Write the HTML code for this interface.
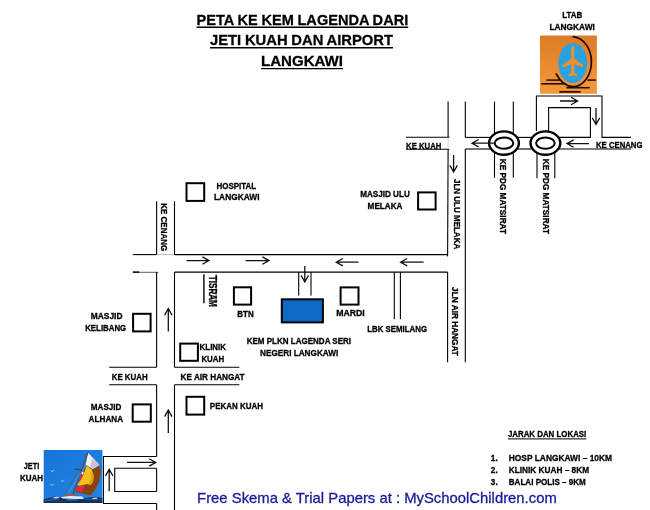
<!DOCTYPE html>
<html lang="ms"><head><meta charset="utf-8"><title>Peta ke Kem Lagenda</title>
<style>html,body{margin:0;padding:0;background:#fff}body{width:650px;height:510px;overflow:hidden}svg{display:block;will-change:transform;font-family:'Liberation Sans', sans-serif}</style>
</head><body>
<svg width="650" height="510" viewBox="0 0 650 510">
<defs><linearGradient id="og" x1="0" y1="0" x2="0" y2="1"><stop offset="0" stop-color="#dc7c27"/><stop offset="1" stop-color="#f59a3b"/></linearGradient></defs>
<rect width="650" height="510" fill="#fff"/>
<text x="196.6" y="24.6" font-size="15.4" font-weight="bold" fill="#000" stroke="#000" stroke-width="0.3" word-spacing="-0.35" textLength="211.6" lengthAdjust="spacingAndGlyphs">PETA KE KEM LAGENDA DARI</text>
<line x1="196.6" y1="27.200000000000003" x2="408.2" y2="27.200000000000003" stroke="#000" stroke-width="1.4"/>
<text x="210" y="45.2" font-size="15.4" font-weight="bold" fill="#000" stroke="#000" stroke-width="0.3" word-spacing="-0.35" textLength="183" lengthAdjust="spacingAndGlyphs">JETI KUAH DAN AIRPORT</text>
<line x1="210" y1="47.800000000000004" x2="393" y2="47.800000000000004" stroke="#000" stroke-width="1.4"/>
<text x="261" y="66" font-size="15.4" font-weight="bold" fill="#000" stroke="#000" stroke-width="0.3" word-spacing="0" textLength="82" lengthAdjust="spacingAndGlyphs">LANGKAWI</text>
<line x1="261" y1="68.6" x2="343" y2="68.6" stroke="#000" stroke-width="1.4"/>
<text x="562.2" y="17.8" font-size="9.3" font-weight="bold" fill="#000" stroke="#000" stroke-width="0.3" word-spacing="0" textLength="20.1" lengthAdjust="spacingAndGlyphs">LTAB</text>
<text x="549.4" y="29.8" font-size="9.3" font-weight="bold" fill="#000" stroke="#000" stroke-width="0.3" word-spacing="0" textLength="45.5" lengthAdjust="spacingAndGlyphs">LANGKAWI</text>
<rect x="540" y="35.5" width="56.9" height="58.3" fill="url(#og)"/>
<ellipse cx="572.8" cy="63.1" rx="14.5" ry="20" fill="#2aa2dd"/>
<path d="M572.6 36.6 C584 37.5 591.4 49 591.4 61.5 C591.4 76 583 86.8 573 86.6 C565 86.4 559.5 80.5 556 73.5" fill="none" stroke="#230a04" stroke-width="1.7"/>
<line x1="546.4" y1="80.1" x2="560.5" y2="80.1" stroke="#230a04" stroke-width="1.5"/>
<line x1="587.5" y1="80.1" x2="595.8" y2="80.1" stroke="#230a04" stroke-width="1.5"/>
<line x1="541.2" y1="83.8" x2="564" y2="83.8" stroke="#230a04" stroke-width="1.6"/>
<line x1="566.4" y1="87.7" x2="589.7" y2="87.7" stroke="#230a04" stroke-width="1.6"/>
<line x1="559.3" y1="91.8" x2="580.6" y2="91.8" stroke="#230a04" stroke-width="1.7"/>
<path d="M572.8 46 c1.2 0 1.6 2 1.6 4.5 v8.2 l8.6 6.2 v2.6 l-8.6 -3.2 v8.4 l2.8 2.2 v1.6 l-4.4 -1 l-4.4 1 v-1.6 l2.8 -2.2 v-8.4 l-8.6 3.2 v-2.6 l8.6 -6.2 v-8.2 c0 -2.5 .4 -4.5 1.6 -4.5z" fill="#ef8f30"/>
<polyline points="536.4,131 536.4,96 602,96 602,137.4 631,137.4" fill="none" stroke="#000" stroke-width="1.1"/>
<polyline points="548.6,131 548.6,107.6 590.4,107.6 590.4,137.4 559,137.4" fill="none" stroke="#000" stroke-width="1.1"/>
<line x1="559" y1="149" x2="631" y2="149" stroke="#000" stroke-width="1.1"/>
<path d="M560 101L577.6 101M571.00 104.70L577.6 101L571.00 97.30" fill="none" stroke="#111" stroke-width="1.3" stroke-linejoin="miter"/>
<path d="M596 108L596 124.5M592.30 117.90L596 124.5L599.70 117.90" fill="none" stroke="#111" stroke-width="1.3" stroke-linejoin="miter"/>
<path d="M589 143.6L567 143.6M573.60 139.90L567 143.6L573.60 147.30" fill="none" stroke="#111" stroke-width="1.3" stroke-linejoin="miter"/>
<text x="596" y="148.4" font-size="9.3" font-weight="bold" fill="#000" stroke="#000" stroke-width="0.3" word-spacing="0" textLength="46.4" lengthAdjust="spacingAndGlyphs">KE CENANG</text>
<ellipse cx="504" cy="143.1" rx="14.9" ry="11.7" fill="#fff" stroke="#000" stroke-width="2.4"/>
<ellipse cx="504" cy="143.1" rx="9.3" ry="5.7" fill="#fff" stroke="#000" stroke-width="2"/>
<ellipse cx="545.4" cy="143.1" rx="14.9" ry="11.7" fill="#fff" stroke="#000" stroke-width="2.4"/>
<ellipse cx="545.4" cy="143.1" rx="9.3" ry="5.7" fill="#fff" stroke="#000" stroke-width="2"/>
<path d="M494 143.2L472 143.2M478.60 139.50L472 143.2L478.60 146.90" fill="none" stroke="#111" stroke-width="1.3" stroke-linejoin="miter"/>
<line x1="518" y1="137.4" x2="531.5" y2="137.4" stroke="#000" stroke-width="1.1"/>
<line x1="518" y1="149" x2="531.5" y2="149" stroke="#000" stroke-width="1.1"/>
<line x1="494.5" y1="101.6" x2="494.5" y2="134" stroke="#000" stroke-width="1.1"/>
<line x1="513.3" y1="101.6" x2="513.3" y2="134" stroke="#000" stroke-width="1.1"/>
<line x1="494.5" y1="153" x2="494.5" y2="177.8" stroke="#000" stroke-width="1.1"/>
<line x1="513.3" y1="153" x2="513.3" y2="177.8" stroke="#000" stroke-width="1.1"/>
<line x1="537" y1="153" x2="537" y2="178.3" stroke="#000" stroke-width="1.1"/>
<line x1="554.8" y1="153" x2="554.8" y2="178.3" stroke="#000" stroke-width="1.1"/>
<text transform="translate(500 158.7) rotate(90)" font-size="9.8" font-weight="bold" fill="#000" stroke="#000" stroke-width="0.3" textLength="75.3" lengthAdjust="spacingAndGlyphs">KE PDG MATSIRAT</text>
<text transform="translate(543 158.7) rotate(90)" font-size="9.8" font-weight="bold" fill="#000" stroke="#000" stroke-width="0.3" textLength="75.3" lengthAdjust="spacingAndGlyphs">KE PDG MATSIRAT</text>
<line x1="406" y1="137.3" x2="449.4" y2="137.3" stroke="#000" stroke-width="1.1"/>
<line x1="406" y1="149.2" x2="449.4" y2="149.2" stroke="#000" stroke-width="1.1"/>
<line x1="465.3" y1="137.4" x2="490" y2="137.4" stroke="#000" stroke-width="1.1"/>
<line x1="465.3" y1="149" x2="490" y2="149" stroke="#000" stroke-width="1.1"/>
<text x="406.1" y="148.6" font-size="9.6" font-weight="bold" fill="#000" stroke="#000" stroke-width="0.3" word-spacing="0" textLength="35.3" lengthAdjust="spacingAndGlyphs">KE KUAH</text>
<line x1="448.1" y1="101.6" x2="448.1" y2="137.4" stroke="#000" stroke-width="1.1"/>
<line x1="448.1" y1="137.4" x2="448.1" y2="149.2" stroke="#d0d0d0" stroke-width="1"/>
<line x1="448.1" y1="149" x2="447.6" y2="256.6" stroke="#000" stroke-width="1.1"/>
<line x1="465.3" y1="101.6" x2="465.3" y2="137.4" stroke="#000" stroke-width="1.1"/>
<line x1="465.3" y1="149" x2="465.3" y2="362.3" stroke="#000" stroke-width="1.1"/>
<path d="M453.6 155L453.6 172M449.90 165.40L453.6 172L457.30 165.40" fill="none" stroke="#111" stroke-width="1.3" stroke-linejoin="miter"/>
<text transform="translate(453.9 179) rotate(90)" font-size="9.8" font-weight="bold" fill="#000" stroke="#000" stroke-width="0.3" textLength="70.2" lengthAdjust="spacingAndGlyphs">JLN ULU MELAKA</text>
<rect x="418.1" y="192.4" width="17.5" height="17.099999999999994" fill="none" stroke="#000" stroke-width="2.0"/>
<text x="360.2" y="196.9" font-size="9.3" font-weight="bold" fill="#000" stroke="#000" stroke-width="0.3" word-spacing="0" textLength="49.6" lengthAdjust="spacingAndGlyphs">MASJID ULU</text>
<text x="367.6" y="209.2" font-size="9.3" font-weight="bold" fill="#000" stroke="#000" stroke-width="0.3" word-spacing="0" textLength="34.9" lengthAdjust="spacingAndGlyphs">MELAKA</text>
<line x1="132.8" y1="254.6" x2="156.6" y2="254.6" stroke="#000" stroke-width="1.1"/>
<line x1="156.6" y1="254.6" x2="174.5" y2="254.6" stroke="#bbb" stroke-width="1"/>
<line x1="174.5" y1="254.6" x2="447.6" y2="254.6" stroke="#000" stroke-width="1.1"/>
<line x1="132.8" y1="272.3" x2="158.4" y2="272.3" stroke="#333" stroke-width="0.8"/>
<line x1="132.8" y1="272.1" x2="139.2" y2="272.1" stroke="#000" stroke-width="1.4"/>
<line x1="174.5" y1="272.1" x2="447.6" y2="272.1" stroke="#000" stroke-width="1.1"/>
<line x1="447.6" y1="272.1" x2="447.6" y2="362.3" stroke="#000" stroke-width="1.1"/>
<path d="M186.5 260.6L209 260.6M202.40 264.30L209 260.6L202.40 256.90" fill="none" stroke="#111" stroke-width="1.3" stroke-linejoin="miter"/>
<path d="M245.6 260.6L269 260.6M262.40 264.30L269 260.6L262.40 256.90" fill="none" stroke="#111" stroke-width="1.3" stroke-linejoin="miter"/>
<path d="M358.5 262.2L336.3 262.2M342.90 258.50L336.3 262.2L342.90 265.90" fill="none" stroke="#111" stroke-width="1.3" stroke-linejoin="miter"/>
<path d="M423.6 262.2L400.6 262.2M407.20 258.50L400.6 262.2L407.20 265.90" fill="none" stroke="#111" stroke-width="1.3" stroke-linejoin="miter"/>
<text transform="translate(452.1 287.1) rotate(90)" font-size="9.8" font-weight="bold" fill="#000" stroke="#000" stroke-width="0.3" textLength="68.8" lengthAdjust="spacingAndGlyphs">JLN AIR HANGAT</text>
<line x1="156.6" y1="201.3" x2="156.6" y2="254.6" stroke="#000" stroke-width="1.1"/>
<line x1="174.5" y1="201.3" x2="174.5" y2="254.6" stroke="#000" stroke-width="1.1"/>
<text transform="translate(160.6 203.2) rotate(90)" font-size="9.8" font-weight="bold" fill="#000" stroke="#000" stroke-width="0.3" textLength="48" lengthAdjust="spacingAndGlyphs">KE CENANG</text>
<rect x="186.5" y="183.2" width="17.69999999999999" height="17.700000000000017" fill="none" stroke="#000" stroke-width="2.0"/>
<text x="216.5" y="188.7" font-size="9.3" font-weight="bold" fill="#000" stroke="#000" stroke-width="0.3" word-spacing="0" textLength="39.7" lengthAdjust="spacingAndGlyphs">HOSPITAL</text>
<text x="214" y="200.4" font-size="9.3" font-weight="bold" fill="#000" stroke="#000" stroke-width="0.3" word-spacing="0" textLength="45.6" lengthAdjust="spacingAndGlyphs">LANGKAWI</text>
<line x1="203.9" y1="274.2" x2="203.9" y2="303.2" stroke="#000" stroke-width="1.4"/>
<line x1="216.1" y1="274.2" x2="216.1" y2="303.2" stroke="#000" stroke-width="0.8"/>
<text transform="translate(208.7 275.8) rotate(90)" font-size="10.4" font-weight="bold" fill="#000" stroke="#000" stroke-width="0.3" textLength="31" lengthAdjust="spacingAndGlyphs">TISRAM</text>
<rect x="233.9" y="287.3" width="17.19999999999999" height="17.30000000000001" fill="none" stroke="#000" stroke-width="2.0"/>
<text x="237.3" y="317.4" font-size="9.3" font-weight="bold" fill="#000" stroke="#000" stroke-width="0.3" word-spacing="0" textLength="16.4" lengthAdjust="spacingAndGlyphs">BTN</text>
<line x1="298.7" y1="272.1" x2="298.7" y2="295.4" stroke="#000" stroke-width="1.1"/>
<line x1="311" y1="272.1" x2="311" y2="295.4" stroke="#000" stroke-width="1.1"/>
<path d="M304.8 265.9L304.8 282M301.10 275.40L304.8 282L308.50 275.40" fill="none" stroke="#111" stroke-width="1.3" stroke-linejoin="miter"/>
<rect x="281.8" y="299.3" width="41.099999999999966" height="23.099999999999966" fill="#0f69c6" stroke="#000" stroke-width="2.0"/>
<text x="246.7" y="344.0" font-size="9.3" font-weight="bold" fill="#000" stroke="#000" stroke-width="0.3" word-spacing="0" textLength="104.4" lengthAdjust="spacingAndGlyphs">KEM PLKN LAGENDA SERI</text>
<text x="260" y="356.2" font-size="9.3" font-weight="bold" fill="#000" stroke="#000" stroke-width="0.3" word-spacing="0" textLength="78.3" lengthAdjust="spacingAndGlyphs">NEGERI LANGKAWI</text>
<rect x="340.6" y="287.4" width="17.899999999999977" height="17.200000000000045" fill="none" stroke="#000" stroke-width="2.0"/>
<text x="336.2" y="316.3" font-size="9.3" font-weight="bold" fill="#000" stroke="#000" stroke-width="0.3" word-spacing="0" textLength="28.6" lengthAdjust="spacingAndGlyphs">MARDI</text>
<line x1="394.3" y1="272.1" x2="394.3" y2="319.2" stroke="#000" stroke-width="1.1"/>
<line x1="400.4" y1="272.1" x2="400.4" y2="319.2" stroke="#000" stroke-width="1.1"/>
<text x="367.2" y="332.2" font-size="9.3" font-weight="bold" fill="#000" stroke="#000" stroke-width="0.3" word-spacing="0" textLength="59.9" lengthAdjust="spacingAndGlyphs">LBK SEMILANG</text>
<line x1="156.6" y1="272.1" x2="156.6" y2="367.3" stroke="#000" stroke-width="1.1"/>
<line x1="174.5" y1="272.1" x2="174.5" y2="367.3" stroke="#000" stroke-width="1.1"/>
<line x1="156.6" y1="384.8" x2="156.6" y2="456.5" stroke="#000" stroke-width="1.1"/>
<line x1="156.6" y1="503.5" x2="156.6" y2="510" stroke="#000" stroke-width="1.1"/>
<line x1="174.5" y1="384.8" x2="174.5" y2="510" stroke="#000" stroke-width="1.1"/>
<line x1="109.2" y1="367.3" x2="156.6" y2="367.3" stroke="#000" stroke-width="1.1"/>
<line x1="174.5" y1="367.3" x2="239.4" y2="367.3" stroke="#000" stroke-width="1.1"/>
<line x1="109.2" y1="384.8" x2="156.6" y2="384.8" stroke="#000" stroke-width="1.1"/>
<line x1="174.5" y1="384.8" x2="239.4" y2="384.8" stroke="#000" stroke-width="1.1"/>
<text x="111.7" y="380.2" font-size="9.3" font-weight="bold" fill="#000" stroke="#000" stroke-width="0.3" word-spacing="0" textLength="36" lengthAdjust="spacingAndGlyphs">KE KUAH</text>
<text x="180.6" y="380.2" font-size="9.3" font-weight="bold" fill="#000" stroke="#000" stroke-width="0.3" word-spacing="0" textLength="64" lengthAdjust="spacingAndGlyphs">KE AIR HANGAT</text>
<path d="M168.3 331.5L168.3 308.5M172.00 315.10L168.3 308.5L164.60 315.10" fill="none" stroke="#111" stroke-width="1.3" stroke-linejoin="miter"/>
<path d="M168.3 433L168.3 410M172.00 416.60L168.3 410L164.60 416.60" fill="none" stroke="#111" stroke-width="1.3" stroke-linejoin="miter"/>
<rect x="133.1" y="313.8" width="17.5" height="17.599999999999966" fill="none" stroke="#000" stroke-width="2.0"/>
<text x="90.8" y="319.2" font-size="9.3" font-weight="bold" fill="#000" stroke="#000" stroke-width="0.3" word-spacing="0" textLength="31.7" lengthAdjust="spacingAndGlyphs">MASJID</text>
<text x="85.2" y="331" font-size="9.3" font-weight="bold" fill="#000" stroke="#000" stroke-width="0.3" word-spacing="0" textLength="41" lengthAdjust="spacingAndGlyphs">KELIBANG</text>
<rect x="180.2" y="343.6" width="17.700000000000017" height="17.19999999999999" fill="none" stroke="#000" stroke-width="2.0"/>
<text x="199.6" y="350.2" font-size="9.3" font-weight="bold" fill="#000" stroke="#000" stroke-width="0.3" word-spacing="0" textLength="26.4" lengthAdjust="spacingAndGlyphs">KLINIK</text>
<text x="201.4" y="361.8" font-size="9.3" font-weight="bold" fill="#000" stroke="#000" stroke-width="0.3" word-spacing="0" textLength="22.8" lengthAdjust="spacingAndGlyphs">KUAH</text>
<rect x="132.7" y="404.4" width="18.100000000000023" height="17.30000000000001" fill="none" stroke="#000" stroke-width="2.0"/>
<text x="90.8" y="409.5" font-size="9.3" font-weight="bold" fill="#000" stroke="#000" stroke-width="0.3" word-spacing="0" textLength="30.6" lengthAdjust="spacingAndGlyphs">MASJID</text>
<text x="88.6" y="421.5" font-size="9.3" font-weight="bold" fill="#000" stroke="#000" stroke-width="0.3" word-spacing="0" textLength="34.5" lengthAdjust="spacingAndGlyphs">ALHANA</text>
<rect x="186.5" y="396.8" width="17.69999999999999" height="17.80000000000001" fill="none" stroke="#000" stroke-width="2.0"/>
<text x="209.8" y="409.3" font-size="9.3" font-weight="bold" fill="#000" stroke="#000" stroke-width="0.3" word-spacing="0" textLength="53.3" lengthAdjust="spacingAndGlyphs">PEKAN KUAH</text>
<polyline points="156.6,456.5 103.4,456.5 103.4,503.5 156.6,503.5" fill="none" stroke="#000" stroke-width="1.1"/>
<polyline points="156.6,468.2 114.7,468.2 114.7,491.5 156.6,491.5" fill="none" stroke="#000" stroke-width="1.1"/>
<line x1="156.6" y1="468.2" x2="156.6" y2="491.5" stroke="#000" stroke-width="1.1"/>
<path d="M127 462.4L155.8 462.4M149.20 466.10L155.8 462.4L149.20 458.70" fill="none" stroke="#111" stroke-width="1.3" stroke-linejoin="miter"/>
<path d="M109.2 491.2L109.2 469.3M112.90 475.90L109.2 469.3L105.50 475.90" fill="none" stroke="#111" stroke-width="1.3" stroke-linejoin="miter"/>
<text x="23.8" y="469" font-size="9.3" font-weight="bold" fill="#000" stroke="#000" stroke-width="0.3" word-spacing="0" textLength="15.4" lengthAdjust="spacingAndGlyphs">JETI</text>
<text x="20" y="480.9" font-size="9.3" font-weight="bold" fill="#000" stroke="#000" stroke-width="0.3" word-spacing="0" textLength="23.1" lengthAdjust="spacingAndGlyphs">KUAH</text>
<g transform="translate(43.7 450)">
<defs><linearGradient id="sky" x1="0" y1="0" x2="1" y2="1"><stop offset="0" stop-color="#1874d6"/><stop offset="1" stop-color="#2186e4"/></linearGradient></defs>
<rect width="58.7" height="53" fill="url(#sky)"/>
<polygon points="0.0,49.3 5.1,48.0 10.8,46.6 15.3,47.5 19.9,46.8 25.6,48.0 32.4,47.0 39.2,48.0 46.0,47.5 51.7,46.8 58.5,48.0 58.5,53.1 0.0,53.1" fill="#0f2f5a"/>
<polygon points="0.0,50.5 6.2,49.1 11.9,48.0 16.5,48.9 13.1,49.8 5.1,51.1 0.0,51.6" fill="#2a5f96"/>
<polygon points="35.8,49.1 43.8,48.4 51.7,49.3 58.5,48.9 58.5,50.2 46.0,50.5" fill="#25558a"/>
<polygon points="21.0,49.7 27.8,48.7 35.8,49.7 32.4,50.5 24.4,50.7" fill="#3a6ea6"/>
<polygon points="5.1,51.4 14.2,50.5 23.3,51.4 15.3,52.0" fill="#1d4476"/>
<polygon points="8.5,47.5 13.1,46.8 16.5,47.7 11.9,48.4" fill="#c9d8e8"/>
<polygon points="32.4,47.5 38.1,46.8 40.6,48.6 34.7,48.9" fill="#f2f6fa"/>
<polygon points="42.4,15.4 49.2,18.9 56.5,16.2 57.2,21.3 55.1,32.5 51.6,39.5 47.1,45.4 31.6,41.9 35.1,34.8" fill="#8a4210"/>
<polygon points="44.3,2.8 55.7,14.8 49.2,18.9 41.9,14.8" fill="#f0f0f0"/>
<polygon points="48.7,8.9 55.7,14.8 49.2,18.9 46.3,16.0" fill="#c6c6ca"/>
<polygon points="37.5,23.3 39.6,25.4 37.7,31.3 40.8,35.4 38.2,42.8 31.4,40.2 34.9,33.6" fill="#dc2b3c"/>
<polygon points="42.9,15.8 48.1,19.5 49.9,25.4 49.5,31.3 47.1,35.1 43.4,33.9 35.4,35.8 33.7,34.4 37.7,29.2 40.8,22.1" fill="#f3c21d"/>
<polygon points="46.3,20.7 49.9,25.4 49.5,31.3 47.1,35.1 45.0,33.9 47.6,27.8" fill="#d9a516"/>
<polygon points="38.2,21.6 40.1,22.4 39.4,24.5 37.7,24.0" fill="#e8eef5"/>
<polygon points="20.8,44.8 31.5,43.9 32.4,45.5 21.6,46.1" fill="#c8501c"/>
<polygon points="17.0,47.0 26.7,46.1 38.1,46.6 39.8,48.5 32.4,49.1 18.8,48.6" fill="#e4ecf4"/>
<polygon points="48.3,48.0 52.8,47.5 54.0,48.9 48.9,49.1" fill="#d4dfec"/>
<line x1="44.3" y1="2.5" x2="21.0" y2="44.5" stroke="#6a5040" stroke-width="0.45"/>
<line x1="44.3" y1="2.7" x2="29.2" y2="44.0" stroke="#5a3420" stroke-width="0.8"/>
<line x1="31.2" y1="19.0" x2="38.3" y2="20.2" stroke="#2a2020" stroke-width="0.7"/>
<line x1="42.0" y1="15.0" x2="24.7" y2="43.4" stroke="#caa" stroke-width="0.4"/>
<path d="M6.9 20.6 l1.6 1 l1.8 -1.4" fill="none" stroke="#dce8f8" stroke-width="0.7"/>
<path d="M6.7 34.4 l1.6 1 l1.8 -1.4" fill="none" stroke="#dce8f8" stroke-width="0.7"/>
<path d="M17.2 30.5 l1.6 1 l1.8 -1.4" fill="none" stroke="#dce8f8" stroke-width="0.7"/>
</g>
<text x="507.9" y="437.2" font-size="9.3" font-weight="bold" fill="#000" stroke="#000" stroke-width="0.3" word-spacing="0" textLength="78.4" lengthAdjust="spacingAndGlyphs">JARAK DAN LOKASI</text>
<line x1="507.9" y1="438.9" x2="586.3" y2="438.9" stroke="#000" stroke-width="1.0"/>
<text x="490.8" y="460.7" font-size="9.3" font-weight="bold" fill="#000" stroke="#000" stroke-width="0.3" word-spacing="0" textLength="6.9" lengthAdjust="spacingAndGlyphs">1.</text>
<text x="508.8" y="460.7" font-size="9.3" font-weight="bold" fill="#000" stroke="#000" stroke-width="0.3" word-spacing="0" textLength="103.2" lengthAdjust="spacingAndGlyphs">HOSP LANGKAWI – 10KM</text>
<text x="490.8" y="473.2" font-size="9.3" font-weight="bold" fill="#000" stroke="#000" stroke-width="0.3" word-spacing="0" textLength="6.9" lengthAdjust="spacingAndGlyphs">2.</text>
<text x="508.8" y="473.2" font-size="9.3" font-weight="bold" fill="#000" stroke="#000" stroke-width="0.3" word-spacing="0" textLength="80.2" lengthAdjust="spacingAndGlyphs">KLINIK KUAH – 8KM</text>
<text x="490.8" y="484.8" font-size="9.3" font-weight="bold" fill="#000" stroke="#000" stroke-width="0.3" word-spacing="0" textLength="6.9" lengthAdjust="spacingAndGlyphs">3.</text>
<text x="508.8" y="484.8" font-size="9.3" font-weight="bold" fill="#000" stroke="#000" stroke-width="0.3" word-spacing="0" textLength="77" lengthAdjust="spacingAndGlyphs">BALAI POLIS – 9KM</text>
<text x="197.1" y="502.5" font-size="15" fill="#1a1a98" stroke="#1a1a98" stroke-width="0.3" textLength="359.7" lengthAdjust="spacingAndGlyphs">Free Skema &amp; Trial Papers at : MySchoolChildren.com</text>
</svg></body></html>
